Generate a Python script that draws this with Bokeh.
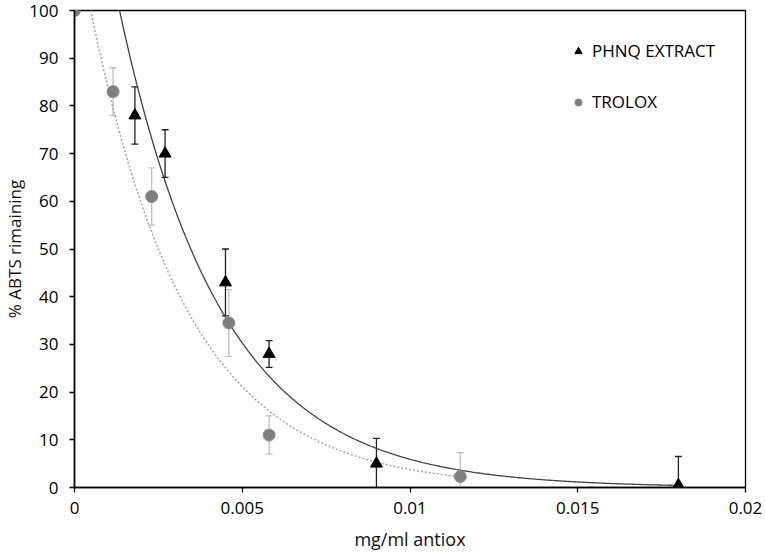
import numpy as np
from bokeh.plotting import figure
from bokeh.models import (ColumnDataSource, Whisker, TeeHead, FixedTicker,
                          Legend, LegendItem, Range1d)
from bokeh.embed import file_html
from bokeh.resources import INLINE

# ---- data ----
phnq_x = [0.0018, 0.0027, 0.0045, 0.0058, 0.009, 0.018]
phnq_y = [78, 70, 43, 28, 5, 0.5]
phnq_err = [6, 5, 7, 2.8, 5.3, 6]

trolox_x = [0, 0.00115, 0.0023, 0.0046, 0.0058, 0.0115]
trolox_y = [100, 83, 61, 34.5, 11, 2.3]
trolox_err = [0, 5, 6, 7, 4, 5]

x_ticks = [0, 0.005, 0.01, 0.015, 0.02]
x_tick_labels = ["0", "0.005", "0.01", "0.015", "0.02"]
y_ticks = [0, 10, 20, 30, 40, 50, 60, 70, 80, 90, 100]

series_names = ["PHNQ EXTRACT", "TROLOX"]
x_title = "mg/ml antiox"
y_title = "% ABTS rimaining"

FONT = "Open Sans"


def exp_trend(xs, ys, x_end):
    """Exponential trendline (least squares on log y), like the spreadsheet fit."""
    m, b = np.polyfit(np.asarray(xs, float), np.log(np.asarray(ys, float)), 1)
    xx = np.linspace(0, x_end, 400)
    return xx, np.exp(b) * np.exp(m * xx)


p = figure(width=765, height=558, output_backend="svg", toolbar_location=None,
           x_range=Range1d(0, 0.02), y_range=Range1d(0, 100),
           min_border_left=74, min_border_right=20, min_border_top=10,
           min_border_bottom=71, background_fill_color="white")

p.xgrid.visible = False
p.ygrid.visible = False
p.outline_line_color = "black"
p.outline_line_width = 1.3
p.outline_line_alpha = 1

for ax in (p.xaxis[0], p.yaxis[0]):
    ax.axis_line_color = "black"
    ax.axis_line_width = 1.6
    ax.major_tick_line_color = "black"
    ax.major_tick_line_width = 1.3
    ax.major_tick_in = 0
    ax.major_tick_out = 5
    ax.minor_tick_line_color = None
    ax.major_label_text_font = FONT
    ax.major_label_text_font_size = "17px"
    ax.major_label_text_color = "#000000"
    ax.axis_label_text_font = FONT
    ax.axis_label_text_font_style = "normal"
    ax.axis_label_text_color = "#111111"

p.xaxis.axis_label_text_font_size = "18px"
p.yaxis.axis_label_text_font_size = "17px"
p.xaxis.ticker = FixedTicker(ticks=x_ticks)
p.xaxis.major_label_overrides = {t: l for t, l in zip(x_ticks, x_tick_labels)}
p.yaxis.ticker = FixedTicker(ticks=y_ticks)
p.xaxis.axis_label = x_title
p.yaxis.axis_label = y_title
p.xaxis.major_label_standoff = 9
p.xaxis.axis_label_standoff = 10
p.yaxis.major_label_standoff = 11
p.yaxis.axis_label_standoff = 0

# trendlines
tx, ty = exp_trend(trolox_x, trolox_y, max(trolox_x))
p.line(tx, ty, line_color="#a6a6a6", line_width=1.6, line_dash="2 2")
px_, py_ = exp_trend(phnq_x, phnq_y, max(phnq_x))
p.line(px_, py_, line_color="#404040", line_width=1.3)

# error bars
tsrc = ColumnDataSource(dict(x=trolox_x, y=trolox_y,
                             lo=[a - e for a, e in zip(trolox_y, trolox_err)],
                             hi=[a + e for a, e in zip(trolox_y, trolox_err)]))
psrc = ColumnDataSource(dict(x=phnq_x, y=phnq_y,
                             lo=[a - e for a, e in zip(phnq_y, phnq_err)],
                             hi=[a + e for a, e in zip(phnq_y, phnq_err)]))

tw = Whisker(source=tsrc, base="x", upper="hi", lower="lo",
             line_color="#bfbfbf", line_width=1.3,
             upper_head=TeeHead(size=7, line_color="#bfbfbf", line_width=1.3),
             lower_head=TeeHead(size=7, line_color="#bfbfbf", line_width=1.3))
pw = Whisker(source=psrc, base="x", upper="hi", lower="lo",
             line_color="#222222", line_width=1.3,
             upper_head=TeeHead(size=7, line_color="#222222", line_width=1.3),
             lower_head=TeeHead(size=7, line_color="#222222", line_width=1.3))
p.add_layout(tw)
p.add_layout(pw)

r_t = p.scatter("x", "y", source=tsrc, marker="circle", size=12,
                fill_color="#7f7f7f", line_color="#8c8c8c", line_width=1)
r_p = p.scatter("x", "y", source=psrc, marker="triangle", size=12,
                fill_color="black", line_color="black")

legend = Legend(items=[LegendItem(label=series_names[0], renderers=[r_p]),
                       LegendItem(label=series_names[1], renderers=[r_t])],
                location=(495, 374), orientation="vertical",
                spacing=28, padding=0, margin=0,
                glyph_width=18, glyph_height=20, label_height=20,
                label_standoff=5,
                label_text_font=FONT, label_text_font_size="17px",
                label_text_color="#000000",
                border_line_color=None, background_fill_alpha=0)
p.add_layout(legend)

open("out.html", "w").write(file_html(p, INLINE))
